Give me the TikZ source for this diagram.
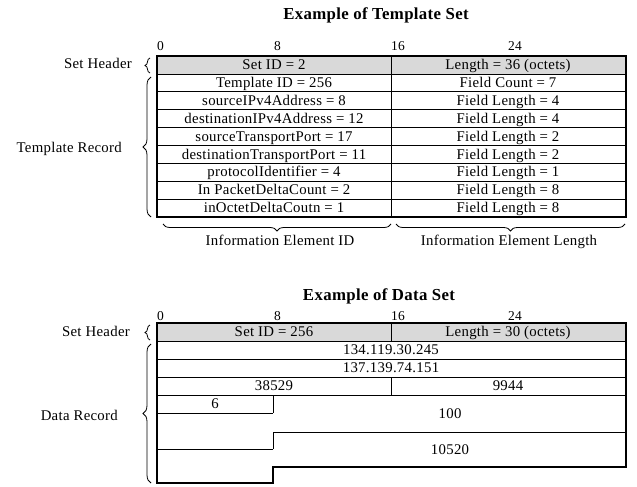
\documentclass[tikz,border=0pt]{standalone}
\usepackage{fontspec}
\setmainfont{Liberation Serif}[LetterSpace=2]
\usetikzlibrary{positioning, decorations.pathreplacing}
\definecolor{hdrgray}{RGB}{217,217,217}

\begin{document}
\begin{tikzpicture}[x=1pt, y=-1pt,
        txt/.style={font=\fontsize{14.8}{16}\selectfont, inner sep=0pt, anchor=base},
        sidelabel/.style={font=\fontsize{14.8}{16}\selectfont, inner sep=0pt, anchor=base east},
        bitlabel/.style={font=\fontsize{13.5}{15}\selectfont, inner sep=0pt, anchor=base west},
        titletext/.style={font=\fontsize{16.8}{19}\selectfont\bfseries, inner sep=0pt, anchor=base},
        frame/.style={line width=1.8pt},
        rowline/.style={line width=0.7pt},
        bracket/.style={decorate, decoration={brace, amplitude=#1}, line width=0.8pt}
    ]
        \useasboundingbox (0,0) rectangle (637,487);

        % Template set
        \node[titletext] (tmpl_title) at (376,20) {Example of Template Set};
        \foreach \b/\x in {0/157, 8/274, 16/391, 24/508} {
            \node[bitlabel] (tbit\b) at (\x,51) {\b};
        }
        \fill[hdrgray] (157,56) rectangle (626,74);
        \foreach \i in {1,...,8} {
            \draw[rowline] (157,{56+\i*17.9}) -- (626,{56+\i*17.9});
        }
        \draw[rowline] (391,56) -- (391,217);
        \draw[frame] (157,56) rectangle (626,217);

        % Template record fields
        \foreach \l/\r [count=\i from 0] in {Set ID = 2/Length = 36 (octets),
                Template ID = 256/Field Count = 7,
                sourceIPv4Address = 8/Field Length = 4,
                destinationIPv4Address = 12/Field Length = 4,
                sourceTransportPort = 17/Field Length = 2,
                destinationTransportPort = 11/Field Length = 2,
                protocolIdentifier = 4/Field Length = 1,
                In PacketDeltaCount = 2/Field Length = 8,
                inOctetDeltaCoutn = 1/Field Length = 8} {
            \node[txt] (tl\i) at (274,{56+\i*17.9+13.5}) {\l};
            \node[txt] (tr\i) at (508,{56+\i*17.9+13.5}) {\r};
        }

        % Braces for template set
        \node[sidelabel] (tmpl_hdr) at (132,68) {Set Header};
        \draw[bracket=5pt] (150,73) -- (150,58);
        \node[sidelabel] (tmpl_rec) at (122,152) {Template Record};
        \draw[bracket=8pt] (151,217) -- (151,77);
        \draw[bracket=7pt] (391,224) -- (163,224);
        \draw[bracket=7pt] (625,224) -- (396,224);
        \node[txt] (ie_id) at (280,245) {Information Element ID};
        \node[txt] (ie_len) at (509,245) {Information Element Length};

        % Data set
        \node[titletext] (data_title) at (379,300) {Example of Data Set};
        \foreach \b/\x in {0/157, 8/274, 16/391, 24/508} {
            \node[bitlabel] (dbit\b) at (\x,320) {\b};
        }
        \fill[hdrgray] (157,323) rectangle (626,341);
        \draw[rowline] (157,341) -- (626,341);
        \draw[rowline] (157,359) -- (626,359);
        \draw[rowline] (157,377) -- (626,377);
        \draw[rowline] (157,395) -- (626,395);
        \draw[rowline] (157,413) -- (273,413);
        \draw[rowline] (273,432) -- (626,432);
        \draw[rowline] (157,449) -- (273,449);
        \draw[rowline] (391,323) -- (391,341);
        \draw[rowline] (391,377) -- (391,395);
        \draw[rowline] (273,395) -- (273,413);
        \draw[rowline] (273,432) -- (273,449);
        \draw[frame] (157,323) -- (626,323) -- (626,467) -- (273,467)
            -- (273,483) -- (157,483) -- cycle;

        % Data record fields
        \node[txt] (dhdr_id) at (274,336.5) {Set ID = 256};
        \node[txt] (dhdr_len) at (508,336.5) {Length = 30 (octets)};
        \node[txt] (src_ip) at (391,354.5) {134.119.30.245};
        \node[txt] (dst_ip) at (391,372.5) {137.139.74.151};
        \node[txt] (src_port) at (274,390.5) {38529};
        \node[txt] (dst_port) at (508,390.5) {9944};
        \node[txt] (proto) at (215,408.5) {6};
        \node[txt] (pkts) at (450,418.5) {100};
        \node[txt] (octs) at (450,454) {10520};

        % Braces for data set
        \node[sidelabel] (data_hdr) at (130,336) {Set Header};
        \draw[bracket=5pt] (150,340) -- (150,325);
        \node[sidelabel] (data_rec) at (118,420) {Data Record};
        \draw[bracket=8pt] (151,483) -- (151,344);
\end{tikzpicture}
\end{document}
